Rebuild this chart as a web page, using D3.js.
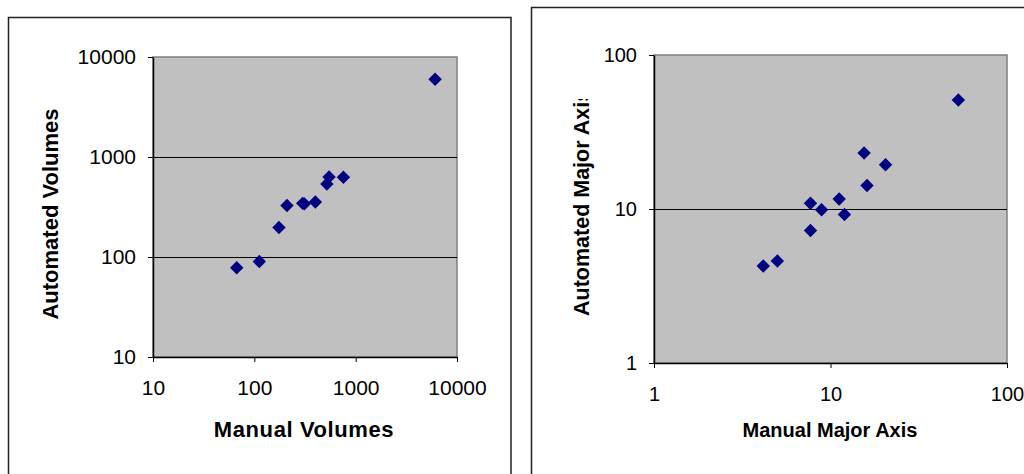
<!DOCTYPE html>
<html>
<head>
<meta charset="utf-8">
<script src="https://cdn.jsdelivr.net/npm/d3@7"></script>
<style>
  body { margin: 0; background: #fff; }
  svg { display: block; font-family: "Liberation Sans", Arial, sans-serif; }
  .domain { stroke: #000; }
  .tick line { stroke: #000; }
  .tick text { fill: #000; }
</style>
</head>
<body>
<svg id="chart" width="1024" height="474"></svg>
<script>
// volumes chart (left)
let volTicks = [10, 100, 1000, 10000]
let volManual = [67, 112, 175, 210, 300, 312, 400, 520, 546, 757, 6080]
let volAuto = [78, 90, 197, 327, 344, 340, 355, 537, 631, 627, 5985]

// major axis chart (right)
let axisTicks = [1, 10, 100]
let axisManual = [4.16, 5.0, 7.7, 7.7, 8.9, 11.2, 12.0, 15.5, 16.1, 20.5, 53]
let axisAuto = [4.26, 4.6, 10.9, 7.25, 9.9, 11.6, 9.2, 23.1, 14.2, 19.4, 51]

let svg = d3.select('#chart')

// outer frames
svg.append('rect')
    .attr('x', 8.5).attr('y', 17.5)
    .attr('width', 502.5).attr('height', 480)
    .attr('fill', 'none').attr('stroke', '#222').attr('stroke-width', 1.5)
svg.append('rect')
    .attr('x', 531.5).attr('y', 7.5)
    .attr('width', 520).attr('height', 480)
    .attr('fill', 'none').attr('stroke', '#222').attr('stroke-width', 1.5)

function drawChart(opt) {
    let xs = d3.scaleLog().domain(opt.domain).range([opt.left, opt.right])
    let ys = d3.scaleLog().domain(opt.domain).range([opt.bottom, opt.top])
    let g = svg.append('g')

    // plot area
    g.append('rect')
        .attr('x', opt.left).attr('y', opt.top)
        .attr('width', opt.right - opt.left).attr('height', opt.bottom - opt.top)
        .attr('fill', '#c0c0c0')
        .attr('stroke', '#808080').attr('stroke-width', 1.5)

    // horizontal gridlines
    g.selectAll('line.grid')
        .data(opt.ticks.slice(1, -1))
        .enter().append('line')
        .attr('class', 'grid')
        .attr('x1', opt.left).attr('x2', opt.right)
        .attr('y1', d => Math.round(ys(d)) + 0.5)
        .attr('y2', d => Math.round(ys(d)) + 0.5)
        .attr('stroke', '#000')

    let xAxis = d3.axisBottom(xs).tickValues(opt.ticks).tickFormat(d3.format('d'))
        .tickSizeInner(5).tickSizeOuter(0).tickPadding(opt.xPad)
    let yAxis = d3.axisLeft(ys).tickValues(opt.ticks).tickFormat(d3.format('d'))
        .tickSizeInner(5).tickSizeOuter(0).tickPadding(12)

    g.append('g')
        .attr('transform', `translate(0, ${opt.bottom})`)
        .call(xAxis)
        .selectAll('text').style('font-size', opt.tickFont + 'px')
    g.append('g')
        .attr('transform', `translate(${opt.left}, 0)`)
        .call(yAxis)
        .selectAll('text').style('font-size', opt.tickFont + 'px')
    g.selectAll('.domain').attr('stroke-width', 1.5)

    // points
    let pts = opt.xs.map((v, i) => ({x: v, y: opt.ys[i]}))
    g.selectAll('path.pt')
        .data(pts)
        .enter().append('path')
        .attr('class', 'pt')
        .attr('d', d3.symbol(d3.symbolSquare, 90))
        .attr('transform', d => `translate(${xs(d.x)}, ${ys(d.y)}) rotate(45)`)
        .attr('fill', '#000080')

    // x title
    g.append('text')
        .attr('x', opt.xTitleX).attr('y', 437)
        .attr('text-anchor', 'middle')
        .style('font-size', opt.titleFont + 'px')
        .style('font-weight', 'bold')
        .style('letter-spacing', opt.xTitleSpacing + 'px')
        .text(opt.xTitle)

    // y title, clipped at the top when the box is too short
    let tg = g.append('g')
    if (opt.clipTop) {
        svg.append('clipPath').attr('id', 'yclip')
            .append('rect').attr('x', 0).attr('y', opt.clipTop).attr('width', 1024).attr('height', 474)
        tg.attr('clip-path', 'url(#yclip)')
    }
    tg.append('text')
        .attr('transform', `translate(${opt.yTitleX}, ${opt.yTitleY}) rotate(-90)`)
        .attr('text-anchor', opt.yTitleAnchor)
        .style('font-size', opt.yTitleFont + 'px')
        .style('font-weight', 'bold')
        .text(opt.yTitle)
}

drawChart({
    domain: [10, 10000], ticks: volTicks, xs: volManual, ys: volAuto,
    left: 153, right: 457, top: 57, bottom: 357,
    xPad: 18, tickFont: 21, titleFont: 22, yTitleFont: 22,
    xTitle: 'Manual Volumes', xTitleX: 304, xTitleSpacing: 0.6,
    yTitle: 'Automated Volumes', yTitleX: 58, yTitleY: 214, yTitleAnchor: 'middle'
})

drawChart({
    domain: [1, 100], ticks: axisTicks, xs: axisManual, ys: axisAuto,
    left: 654, right: 1007, top: 55, bottom: 363,
    xPad: 19, tickFont: 20, titleFont: 20, yTitleFont: 21.5,
    xTitle: 'Manual Major Axis', xTitleX: 830, xTitleSpacing: 0,
    yTitle: 'Automated Major Axis', yTitleX: 589, yTitleY: 316, yTitleAnchor: 'start',
    clipTop: 99
})
</script>
</body>
</html>
